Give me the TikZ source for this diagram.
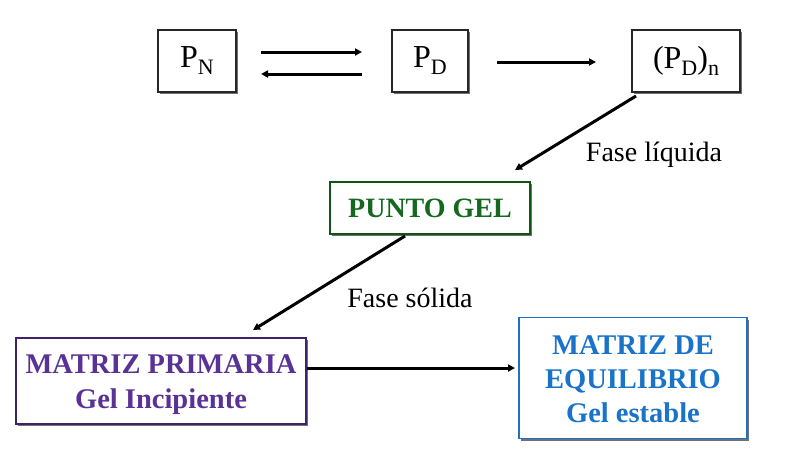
\documentclass[tikz,border=0pt]{standalone}
\usepackage{fontspec}
\setmainfont{Liberation Serif}
\usetikzlibrary{arrows.meta,shadows}
\definecolor{gelgreen}{RGB}{20,105,30}
\definecolor{primpurple}{RGB}{90,50,150}
\definecolor{eqblue}{RGB}{25,115,200}
\newcommand{\lowsub}[1]{\raisebox{-7pt}{\fontsize{22}{24}\selectfont #1}}
\tikzset{
  box/.style={draw=black!85, line width=1.3pt, fill=white, inner sep=0pt,
    drop shadow={shadow xshift=2pt, shadow yshift=-2pt, fill=black!70, opacity=0.8}},
  arr/.style={line width=3pt, -{Triangle[length=7pt,width=7pt]}},
  lbl/.style={font=\fontsize{28}{30}\selectfont, inner sep=0pt},
  pbox/.style={box, minimum height=62pt, font=\fontsize{32}{34}\selectfont},
  btxt/.style={align=center, inner sep=0pt, font=\bfseries\fontsize{28.5}{35}\selectfont}
}
\begin{document}
\begin{tikzpicture}[x=1pt,y=-1pt]
\useasboundingbox (0,0) rectangle (786,450);
\node[pbox, minimum width=78pt] (pn) at (197,61) {P\lowsub{N}};
\node[pbox, minimum width=76pt] (pd) at (430,61) {P\lowsub{D}};
\node[pbox, minimum width=108pt] (pdn) at (686,61) {(P\lowsub{D})\lowsub{n}};
\node[box, draw=gelgreen!80!black, minimum width=200pt, minimum height=52pt, text=gelgreen, font=\bfseries\fontsize{28}{30}\selectfont] (gel) at (430,208) {PUNTO GEL};
\node[box, draw=primpurple!70!black, minimum width=290pt, minimum height=86pt] (mp) at (161,381) {};
\node[btxt, text=primpurple] (mpt) at (161,385) {MATRIZ PRIMARIA\\Gel Incipiente};
\node[box, draw=eqblue, minimum width=228pt, minimum height=121pt] (me) at (633,378) {};
\node[btxt, text=eqblue, font=\bfseries\fontsize{28.5}{34}\selectfont] (met) at (633,379) {MATRIZ DE\\EQUILIBRIO\\Gel estable};
\coordinate (a1s) at (261,52); \coordinate (a1e) at (362,52);
\coordinate (a2s) at (362,74); \coordinate (a2e) at (261,74);
\draw[arr] (a1s) -- (a1e);
\draw[arr] (a2s) -- (a2e);
\coordinate (a3s) at (497,62); \coordinate (a3e) at (596,62);
\draw[arr] (a3s) -- (a3e);
\coordinate (d1s) at (636,96); \coordinate (d1e) at (515,170);
\draw[arr] (d1s) -- (d1e);
\coordinate (d2s) at (405,236); \coordinate (d2e) at (253,330);
\draw[arr] (d2s) -- (d2e);
\coordinate (h1e) at (515,368);
\draw[arr] (mp.east |- h1e) -- (h1e);
\node[lbl] (fl) at (654,155) {Fase líquida};
\node[lbl] (fs) at (410,298) {Fase sólida};
\end{tikzpicture}
\end{document}
